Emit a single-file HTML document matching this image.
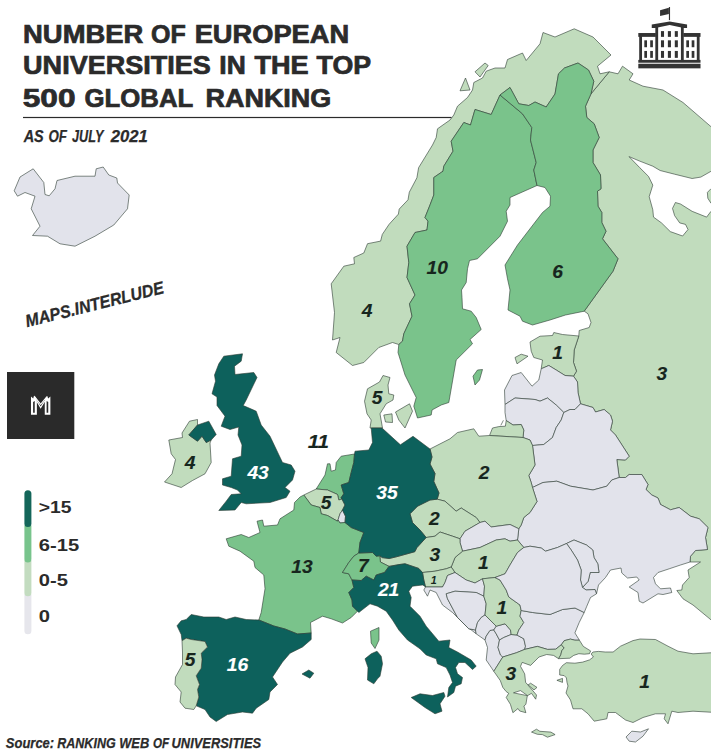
<!DOCTYPE html>
<html><head><meta charset="utf-8"><title>Number of European universities in the top 500 global ranking</title>
<style>
html,body{margin:0;padding:0;background:#fff;}
body{width:711px;height:756px;overflow:hidden;position:relative;font-family:"Liberation Sans",sans-serif;}
svg{position:absolute;left:0;top:0;display:block;}
text{font-family:"Liberation Sans",sans-serif;}
.c{stroke:#2c3b32;stroke-width:0.6;stroke-linejoin:round;}
.lb{font-weight:bold;font-style:italic;font-size:17.6px;text-anchor:middle;stroke-width:0.12;}
</style></head><body>
<svg width="711" height="756" viewBox="0 0 711 756">
<rect x="0" y="0" width="711" height="756" fill="#ffffff"/>

<g id="map">
<polygon class="c" fill="#c1dcbd" points="609.2,71.8 618.0,73.8 622.5,66.2 633.0,73.8 629.2,80.0 643.0,86.2 663.0,90.0 683.0,102.5 716.0,131.0 716.0,624.0 693.0,605.0 683.0,598.8 676.8,590.5 681.8,590.0 682.5,585.0 689.2,577.5 688.0,570.0 700.5,562.0 690.0,562.0 690.5,556.2 695.5,550.5 707.5,549.5 705.5,537.5 708.0,527.5 699.2,518.8 690.5,516.2 679.2,507.5 670.5,509.8 660.5,504.5 658.0,498.0 651.8,495.0 646.0,489.5 648.0,484.5 641.8,474.5 629.2,474.5 625.5,477.5 619.2,477.5 616.8,459.5 625.5,460.0 629.2,456.2 615.5,435.0 610.5,430.0 612.5,421.2 610.5,415.0 604.2,409.5 595.5,412.0 593.0,407.5 580.5,403.8 578.0,392.5 577.5,382.0 573.5,376.2 576.5,371.2 573.5,362.5 574.2,350.0 578.8,336.0 579.2,330.5 589.2,327.5 591.0,322.5 588.0,313.8 584.2,311.2 613.0,271.2 618.0,258.8 602.5,238.8 606.0,231.2 601.8,222.5 601.8,212.5 598.0,206.2 597.5,191.2 601.0,188.8 600.5,175.0 593.0,162.5 593.0,150.0 599.2,137.5 594.2,123.8 586.8,117.5 585.5,106.2 591.0,93.8"/>
<polygon class="c" fill="#ffffff" points="716.0,168.5 711.0,171.3 700.8,177.1 692.1,178.5 674.6,174.2 660.1,170.5 652.8,166.2 639.7,161.1 629.0,156.6 639.7,167.6 648.5,176.4 652.8,185.1 649.2,196.7 652.8,209.8 653.5,217.1 661.5,222.9 670.3,231.6 682.6,236.0 688.0,229.5 685.5,224.4 679.7,222.9 674.6,215.6 672.5,208.4 675.4,202.5 680.5,204.0 692.1,211.3 706.6,217.1 711.0,211.3 716.0,211.0 716.0,203.3 711.0,203.3 707.8,198.2 707.4,192.4 711.0,188.7 716.0,188.0"/>
<polygon class="c" fill="#c1dcbd" points="398.8,344.5 392.5,342.5 378.8,347.5 363.8,362.5 352.5,365.5 336.2,352.5 340.0,337.5 332.5,340.0 334.5,312.5 331.2,283.8 343.8,266.2 354.5,263.8 353.8,257.5 363.8,253.0 367.5,243.7 380.6,241.1 382.3,234.4 389.1,224.3 398.4,214.1 399.2,209.1 408.0,199.8 409.3,192.2 416.9,177.8 418.6,167.7 432.5,145.0 436.2,137.5 437.5,128.8 450.0,120.0 453.8,115.0 457.5,106.2 467.5,97.5 472.5,90.0 473.8,82.5 482.5,78.0 486.2,71.2 495.0,68.0 505.0,68.0 507.5,59.5 522.5,53.0 526.2,60.5 540.0,43.8 543.0,32.5 555.0,37.0 574.2,28.8 593.0,37.0 611.0,55.0 597.5,66.2 600.0,73.8 609.2,71.8 609.2,71.8 591.0,93.8 591.0,93.8 593.8,81.2 588.5,70.0 578.0,63.0 564.5,68.0 558.5,73.8 555.0,94.0 546.2,107.0 535.0,102.0 528.8,105.5 518.8,103.8 510.0,87.5 500.0,95.0 491.2,114.5 475.0,109.5 470.5,125.0 463.8,122.5 451.2,141.2 453.0,151.2 443.8,166.2 443.0,171.2 433.8,177.5 433.8,195.0 430.0,205.0 425.0,217.5 428.0,221.2 427.0,230.0 415.0,232.5 407.0,246.2 408.8,262.5 407.0,277.5 415.0,295.0 409.5,303.8 412.0,316.2 403.8,333.8 402.5,341.2"/>
<polygon class="c" fill="#7ac38b" points="500.0,95.0 522.5,113.8 531.8,127.5 530.5,140.0 536.2,162.5 533.8,170.0 537.0,185.5 510.0,197.5 510.0,205.0 506.2,211.2 507.5,221.2 500.0,236.2 477.5,258.8 469.5,260.5 467.5,268.8 466.2,282.5 461.5,290.0 462.0,297.5 462.5,308.8 471.2,311.2 476.2,317.5 481.2,329.5 470.0,339.5 472.5,343.8 456.2,360.0 448.8,402.5 441.2,405.0 432.0,410.0 431.2,415.0 417.5,418.0 413.8,406.2 416.2,397.5 405.0,375.0 398.0,352.5 398.8,344.5 402.5,341.2 403.8,333.8 412.0,316.2 409.5,303.8 415.0,295.0 407.0,277.5 408.8,262.5 407.0,246.2 415.0,232.5 427.0,230.0 428.0,221.2 425.0,217.5 430.0,205.0 433.8,195.0 433.8,177.5 443.0,171.2 443.8,166.2 453.0,151.2 451.2,141.2 463.8,122.5 470.5,125.0 475.0,109.5 491.2,114.5"/>
<polygon class="c" fill="#7ac38b" points="537.0,185.5 533.8,170.0 536.2,162.5 530.5,140.0 531.8,127.5 522.5,113.8 500.0,95.0 510.0,87.5 518.8,103.8 528.8,105.5 535.0,102.0 546.2,107.0 555.0,94.0 558.5,73.8 564.5,68.0 578.0,63.0 588.5,70.0 593.8,81.2 591.0,93.8 585.5,106.2 586.8,117.5 594.2,123.8 599.2,137.5 593.0,150.0 593.0,162.5 600.5,175.0 601.0,188.8 597.5,191.2 598.0,206.2 601.8,212.5 601.8,222.5 606.0,231.2 602.5,238.8 618.0,258.8 613.0,271.2 584.2,311.2 565.5,315.0 550.0,320.0 532.5,325.0 522.5,321.2 520.0,316.2 508.0,310.0 510.0,290.0 507.5,278.8 505.0,265.0 517.5,245.0 542.5,212.5 550.0,206.2 550.5,196.2 545.0,187.5"/>
<polygon class="c" fill="#c1dcbd" points="465.5,78.0 470.0,90.0 460.0,90.8"/>
<polygon class="c" fill="#c1dcbd" points="475.0,71.8 485.0,63.0 488.2,65.5 480.0,77.0"/>
<polygon class="c" fill="#c1dcbd" points="530.0,342.0 540.0,336.2 552.5,335.5 553.8,332.5 562.5,334.5 578.8,336.0 574.2,350.0 573.5,362.5 576.5,371.2 573.5,376.2 565.0,375.5 556.2,370.0 548.8,365.5 541.2,368.8 542.5,360.0 533.8,357.5 531.2,351.2"/>
<polygon class="c" fill="#c1dcbd" points="515.0,357.5 521.2,354.2 528.0,356.2 517.0,363.8"/>
<polygon class="c" fill="#e2e3eb" points="541.2,368.8 548.8,365.5 556.2,370.0 565.0,375.5 573.5,376.2 577.5,382.0 578.0,392.5 580.5,403.8 575.0,409.5 570.0,409.5 563.8,412.5 556.2,405.0 547.5,398.0 540.0,401.2 535.0,399.5 515.0,398.0 505.0,404.5 504.5,390.0 512.0,375.5 521.2,372.5 532.0,386.2 538.8,380.0"/>
<polygon class="c" fill="#e2e3eb" points="505.0,404.5 515.0,398.0 535.0,399.5 540.0,401.2 547.5,398.0 556.2,405.0 563.8,412.5 561.2,420.0 556.2,427.5 552.5,437.5 543.8,444.5 532.5,445.5 530.0,440.0 523.0,437.5 523.8,430.0 521.2,424.5 513.0,425.0 506.2,420.5 505.0,412.5"/>
<polygon class="c" fill="#c1dcbd" points="506.2,420.5 513.0,425.0 521.2,424.5 523.8,430.0 523.0,437.5 489.5,435.5 492.5,428.0 498.8,426.6 505.4,426.2"/>
<polygon class="c" fill="#e2e3eb" points="563.8,412.5 570.0,409.5 575.0,409.5 580.5,403.8 593.0,407.5 595.5,412.0 604.2,409.5 610.5,415.0 612.5,421.2 610.5,430.0 615.5,435.0 629.2,456.2 625.5,460.0 616.8,459.5 619.2,477.5 611.8,480.0 606.8,486.2 593.0,490.0 570.5,486.2 556.8,481.2 543.0,482.5 532.5,487.5 531.2,482.5 528.8,475.5 535.0,465.0 532.5,445.5 543.8,444.5 552.5,437.5 556.2,427.5 561.2,420.0"/>
<polygon class="c" fill="#e2e3eb" points="532.5,487.5 543.0,482.5 556.8,481.2 570.5,486.2 593.0,490.0 606.8,486.2 611.8,480.0 619.2,477.5 625.5,477.5 629.2,474.5 641.8,474.5 648.0,484.5 646.0,489.5 651.8,495.0 658.0,498.0 660.5,504.5 670.5,509.8 679.2,507.5 690.5,516.2 699.2,518.8 708.0,527.5 705.5,537.5 707.5,549.5 695.5,550.5 690.5,556.2 690.0,562.0 680.5,565.0 669.2,568.8 658.0,572.5 653.5,577.5 655.5,583.8 660.5,588.8 670.5,588.0 671.8,592.5 663.0,594.5 658.0,593.8 643.0,603.0 639.2,601.2 638.0,592.5 629.2,587.0 639.2,580.0 636.8,577.0 627.5,578.0 621.8,573.0 621.0,568.0 610.5,570.0 605.5,577.5 598.5,585.0 596.5,593.8 595.0,589.5 586.2,590.0 582.5,587.5 588.2,581.2 590.2,572.5 599.0,572.5 597.8,563.8 594.0,557.5 592.8,550.0 586.5,545.0 574.0,540.0 566.5,543.5 557.5,547.5 545.5,551.2 541.2,548.0 530.0,546.2 523.8,547.5 517.5,540.0 518.8,528.8 521.2,525.0 523.8,517.5 530.0,512.5 537.0,501.5"/>
<polygon class="c" fill="#e2e3eb" points="566.5,543.5 574.0,540.0 586.5,545.0 592.8,550.0 594.0,557.5 597.8,563.8 599.0,572.5 590.2,572.5 588.2,581.2 582.5,587.5 580.5,580.0 581.2,570.0 577.5,560.0 571.2,550.0"/>
<polygon class="c" fill="#c1dcbd" points="430.0,449.0 450.0,438.8 457.5,432.5 473.8,428.8 478.8,436.2 489.5,435.5 523.0,437.5 530.0,440.0 532.5,445.5 535.0,465.0 528.8,475.5 531.2,482.5 532.5,487.5 537.0,501.5 530.0,512.5 523.8,517.5 521.2,525.0 518.8,528.8 510.0,524.5 491.2,527.0 485.0,521.2 480.0,522.5 476.2,517.5 461.2,508.0 456.2,511.2 445.0,501.2 437.2,499.2 439.0,493.0 433.8,481.5 435.0,473.5 430.0,464.0 432.0,457.0"/>
<polygon class="c" fill="#c1dcbd" points="426.2,537.5 420.0,530.0 412.5,522.5 410.0,513.8 417.5,506.2 430.0,500.0 437.2,499.2 445.0,501.2 456.2,511.2 461.2,508.0 476.2,517.5 480.0,522.5 465.0,531.2 460.0,538.8 452.5,536.2 440.0,532.0 435.0,536.2"/>
<polygon class="c" fill="#e2e3eb" points="480.0,522.5 485.0,521.2 491.2,527.0 510.0,524.5 518.8,528.8 517.5,540.0 510.0,541.2 505.0,538.8 496.2,540.0 480.0,547.5 462.5,551.2 460.0,542.5 460.0,538.8 465.0,531.2"/>
<polygon class="c" fill="#c1dcbd" points="462.5,551.2 480.0,547.5 496.2,540.0 505.0,538.8 510.0,541.2 517.5,540.0 523.8,547.5 517.5,552.5 510.0,565.0 505.0,573.8 495.0,577.5 482.5,578.8 475.0,583.0 466.2,580.0 455.0,572.5 451.2,567.0 455.0,557.5"/>
<polygon class="c" fill="#c1dcbd" points="379.8,555.8 382.3,557.6 389.2,558.5 397.1,556.6 414.8,551.7 416.8,547.7 426.2,537.5 435.0,536.2 440.0,532.0 452.5,536.2 460.0,538.8 460.0,542.5 462.5,551.2 455.0,557.5 451.2,567.0 446.2,568.8 435.0,571.2 422.5,572.5 418.7,568.4 405.0,563.8 399.0,564.6 389.0,566.4 380.4,562.0"/>
<polygon class="c" fill="#c1dcbd" points="422.5,572.5 435.0,571.2 446.2,568.8 451.2,567.0 455.0,572.5 447.5,575.5 445.0,582.5 442.5,587.0 425.5,587.0 423.8,580.0"/>
<polygon class="c" fill="#e2e3eb" points="425.5,587.0 442.5,587.0 445.0,582.5 447.5,575.5 455.0,572.5 466.2,580.0 475.0,583.0 482.5,578.8 484.5,586.2 483.8,596.2 476.2,592.5 455.0,591.2 446.2,593.8 447.5,598.8 457.5,617.5 468.8,628.8 475.5,630.0 476.2,633.8 465.0,625.0 452.5,612.5 442.5,605.0 436.2,592.5 430.0,590.0 427.5,596.2 423.8,590.0"/>
<polygon class="c" fill="#e2e3eb" points="483.8,596.2 476.2,592.5 455.0,591.2 446.2,593.8 447.5,598.8 457.5,617.5 468.8,628.8 475.5,630.0 477.5,622.5 481.2,617.5 485.0,615.0 486.2,603.8"/>
<polygon class="c" fill="#e2e3eb" points="485.0,615.0 481.2,617.5 477.5,622.5 475.5,630.0 476.2,633.8 485.0,640.0 486.2,636.2 490.0,630.5 493.8,630.0 496.2,626.2 490.0,620.0"/>
<polygon class="c" fill="#e2e3eb" points="493.8,630.0 490.0,630.5 486.2,636.2 485.0,640.0 487.5,647.5 486.2,660.0 491.0,667.1 493.8,671.3 502.8,657.0 500.5,655.0 498.0,647.5 499.5,640.0 496.2,633.8"/>
<polygon class="c" fill="#e2e3eb" points="496.2,626.2 505.0,623.8 510.5,630.0 511.2,634.5 503.8,637.5 499.5,640.0 496.2,633.8 493.8,630.0"/>
<polygon class="c" fill="#e2e3eb" points="499.5,640.0 503.8,637.5 511.2,634.5 517.0,635.0 523.8,638.8 525.5,646.2 524.7,649.4 516.3,652.8 502.8,657.0 500.5,655.0 498.0,647.5"/>
<polygon class="c" fill="#c1dcbd" points="495.0,577.5 482.5,578.8 484.5,586.2 483.8,596.2 486.2,603.8 485.0,615.0 490.0,620.0 496.2,626.2 505.0,623.8 510.5,630.0 511.2,634.5 517.0,635.0 518.8,630.0 523.8,622.5 520.0,616.2 521.2,610.5 520.0,605.0 508.8,597.0 506.2,590.0 500.0,580.0"/>
<polygon class="c" fill="#e2e3eb" points="521.2,610.5 532.5,612.5 550.0,614.5 562.5,609.5 575.0,608.0 584.2,612.5 579.2,622.5 574.9,632.9 579.4,640.2 574.9,640.2 570.4,639.1 564.2,640.7 561.4,644.7 555.7,649.2 547.5,649.4 537.4,646.4 524.7,649.4 525.5,646.2 523.8,638.8 517.0,635.0 518.8,630.0 523.8,622.5 520.0,616.2"/>
<polygon class="c" fill="#e2e3eb" points="523.8,547.5 530.0,546.2 541.2,548.0 545.5,551.2 557.5,547.5 566.5,543.5 571.2,550.0 577.5,560.0 581.2,570.0 580.5,580.0 582.5,587.5 586.2,590.0 595.0,589.5 596.5,593.8 590.5,597.5 586.8,606.2 584.2,612.5 575.0,608.0 562.5,609.5 550.0,614.5 532.5,612.5 521.2,610.5 520.0,605.0 508.8,597.0 506.2,590.0 500.0,580.0 495.0,577.5 505.0,573.8 510.0,565.0 517.5,552.5"/>
<polygon class="c" fill="#c1dcbd" points="493.8,671.3 502.8,657.0 516.3,652.8 524.7,649.4 537.4,646.4 547.5,649.4 555.7,649.2 561.4,644.7 564.2,648.1 561.9,650.3 560.8,654.8 558.6,658.7 553.5,655.4 546.7,654.5 539.0,657.0 530.6,665.4 522.2,662.4 520.5,666.3 524.7,673.9 525.6,682.3 536.5,695.0 535.7,699.2 531.5,693.3 527.3,695.8 525.9,704.3 523.9,706.0 525.9,712.7 519.7,711.0 518.0,708.5 512.9,712.7 510.4,704.3 506.2,697.5 508.7,693.3 506.2,691.6 502.8,687.4 500.3,680.6"/>
<polygon class="c" fill="#ffffff" points="513.5,692.8 520.5,690.6 527.5,695.6 521.0,694.4"/>
<polygon class="c" fill="#c1dcbd" points="528.1,684.9 530.6,683.2 537.0,687.4 534.0,689.9"/>
<polygon class="c" fill="#c1dcbd" points="556.9,680.3 562.5,678.4 562.5,682.4"/>
<polygon class="c" fill="#c1dcbd" points="531.5,732.1 536.5,729.2 539.9,731.3 550.9,732.1 555.1,734.6 547.5,737.2 542.4,734.6 537.4,734.3"/>
<polygon class="c" fill="#c1dcbd" points="561.4,644.7 564.2,648.1 561.9,650.3 560.8,654.8 558.6,658.7 569.8,658.2 573.7,655.4 578.8,653.7 584.4,654.2 589.5,653.7 590.6,650.9 583.3,646.4 579.4,640.2 574.9,640.2 570.4,639.1 564.2,640.7"/>
<polygon class="c" fill="#c1dcbd" points="592.9,652.0 598.5,651.4 605.2,652.0 613.1,652.0 620.5,646.2 633.0,640.6 640.0,639.0 655.5,639.5 668.0,646.2 678.0,651.2 693.0,653.8 716.0,652.5 716.0,712.5 693.0,711.2 678.0,712.5 671.8,711.2 668.0,723.8 664.2,718.8 665.5,713.8 655.5,713.8 643.0,717.5 633.0,722.5 625.5,720.0 615.5,712.5 608.0,712.5 606.8,718.8 594.2,721.2 588.0,713.8 581.8,708.8 573.0,708.8 570.5,700.0 566.0,693.0 568.0,686.0 567.0,682.4 566.4,677.9 564.2,675.6 559.7,675.0 559.7,669.4 562.5,665.5 566.4,662.7 574.9,663.2 582.7,662.1 589.5,659.9 593.4,657.0 591.2,654.0"/>
<polygon class="c" fill="#e2e3eb" points="626.0,737.0 631.8,731.2 640.5,732.0 648.5,728.8 643.0,736.2 635.5,742.0 629.2,741.2"/>
<polygon class="c" fill="#c1dcbd" points="370.0,428.0 371.2,420.0 367.0,413.8 364.5,401.2 367.5,388.8 379.5,382.0 383.0,375.5 390.0,377.5 388.0,385.0 388.8,393.8 393.8,395.0 393.0,400.0 386.2,403.8 380.0,413.8 382.5,428.0"/>
<polygon class="c" fill="#c1dcbd" points="383.8,415.0 392.0,413.8 392.5,422.5 385.5,422.0"/>
<polygon class="c" fill="#c1dcbd" points="395.5,412.0 409.5,403.8 412.5,411.2 405.0,428.0 398.8,420.0"/>
<polygon class="c" fill="#7ac38b" points="473.0,376.2 477.5,370.0 482.5,369.5 479.5,380.0 475.0,385.0"/>
<polygon class="c" fill="#7ac38b" points="341.2,456.2 354.5,454.0 353.8,462.5 351.2,472.5 348.8,482.5 341.2,485.0 343.8,493.8 341.2,497.5 342.5,498.8 338.8,500.0 337.5,494.5 327.5,490.0 316.2,489.0 325.0,475.0 327.5,463.8 330.0,463.8 331.2,471.2 335.5,470.0 336.2,462.5"/>
<polygon class="c" fill="#c1dcbd" points="303.8,495.0 316.2,489.0 327.5,490.0 337.5,494.5 338.8,500.0 342.5,498.8 341.2,497.5 345.0,505.0 342.5,510.0 340.0,513.8 338.0,520.0 337.5,521.2 327.5,515.5 321.2,513.8 320.0,507.5 311.2,505.0"/>
<polygon class="c" fill="#e2e3eb" points="342.5,510.0 345.5,516.2 345.0,522.5 340.0,523.0 338.0,520.0 340.0,513.8"/>
<polygon class="c" fill="#7ac38b" points="303.8,495.0 300.0,497.0 294.5,502.5 293.8,510.0 280.0,518.8 277.5,525.0 263.8,526.2 262.5,520.0 257.0,521.2 260.0,532.5 248.8,537.5 241.2,534.5 226.2,538.8 228.8,546.2 240.0,551.2 253.8,561.2 255.0,567.5 263.8,575.0 265.0,588.8 261.2,612.5 258.8,620.0 273.8,626.0 285.0,629.0 297.5,634.0 311.2,633.0 310.5,622.5 322.5,616.2 331.2,618.8 342.5,623.0 351.2,617.5 357.5,611.2 352.5,606.2 352.0,600.0 348.8,592.5 353.8,587.5 352.0,580.0 348.8,573.8 342.5,572.5 348.8,562.5 353.8,556.2 358.8,553.0 360.0,542.5 363.8,532.5 351.2,527.5 345.0,522.5 340.0,523.0 338.0,520.0 337.5,521.2 327.5,515.5 321.2,513.8 320.0,507.5 311.2,505.0"/>
<polygon class="c" fill="#7ac38b" points="370.5,631.2 379.0,627.5 379.0,640.0 375.0,648.5 371.2,643.0"/>
<polygon class="c" fill="#7ac38b" points="379.8,555.8 376.2,556.2 372.5,552.5 358.8,553.0 353.8,556.2 348.8,562.5 342.5,572.5 348.8,573.8 352.0,580.0 361.2,580.5 366.2,576.2 373.8,580.0 376.2,575.0 384.5,572.5 389.0,566.4 380.4,562.0"/>
<polygon class="c" fill="#0d615c" points="354.5,454.0 355.0,451.2 368.8,450.0 372.5,442.5 371.2,428.0 382.0,428.0 400.4,444.8 413.0,436.3 430.0,449.0 432.0,457.0 430.0,464.0 435.0,473.5 433.8,481.5 439.0,493.0 437.2,499.2 430.0,500.0 417.5,506.2 410.0,513.8 412.5,522.5 420.0,530.0 426.2,537.5 416.8,547.7 414.8,551.7 397.1,556.6 389.2,558.5 382.3,557.6 379.8,555.8 376.2,556.2 372.5,552.5 358.8,553.0 360.0,542.5 363.8,532.5 351.2,527.5 345.0,522.5 345.5,516.2 342.5,510.0 345.0,505.0 341.2,497.5 343.8,493.8 341.2,485.0 348.8,482.5 351.2,472.5 353.8,462.5"/>
<polygon class="c" fill="#0d615c" points="352.0,580.0 361.2,580.5 366.2,576.2 373.8,580.0 376.2,575.0 384.5,572.5 389.0,566.4 399.0,564.6 405.0,563.8 418.7,568.4 422.5,572.5 423.8,580.0 425.5,587.0 424.5,586.0 422.5,585.0 412.5,586.2 408.8,591.2 411.2,597.5 410.0,606.2 420.0,616.2 426.2,626.2 438.8,641.2 450.0,640.0 448.8,647.5 457.5,652.0 471.2,660.0 476.2,666.2 472.5,669.5 465.0,662.5 458.8,662.5 455.5,667.5 457.5,673.8 462.5,677.5 461.2,683.8 455.5,686.2 453.8,692.5 447.5,697.0 448.8,687.5 452.5,682.5 450.0,675.0 446.2,667.5 437.5,663.8 436.2,658.8 426.2,655.0 420.0,648.8 407.5,640.0 398.8,630.0 392.5,620.0 386.2,611.2 377.5,606.2 370.0,603.8 358.8,612.5 357.5,611.2 352.5,606.2 352.0,600.0 348.8,592.5 353.8,587.5"/>
<polygon class="c" fill="#0d615c" points="411.2,697.5 420.0,693.8 432.5,695.5 443.8,692.5 445.0,696.2 440.0,703.8 442.0,711.2 435.0,713.8 425.0,707.5"/>
<polygon class="c" fill="#0d615c" points="365.0,658.8 371.2,653.8 377.0,651.2 381.2,656.2 382.5,663.8 380.0,676.2 377.5,678.8 373.8,683.8 367.5,680.0 368.0,667.5"/>
<polygon class="c" fill="#0d615c" points="177.0,625.8 181.2,620.8 186.2,619.5 191.2,614.5 203.8,617.0 218.8,617.0 226.2,619.5 235.0,617.0 246.2,619.5 258.8,620.0 273.8,626.0 285.0,629.0 297.5,634.0 311.2,633.0 311.2,639.5 302.5,647.0 290.0,653.2 282.5,662.0 272.5,677.0 277.5,684.5 270.0,692.0 268.8,699.5 256.2,708.2 252.5,713.2 242.5,712.0 227.5,714.5 216.2,721.5 210.0,717.0 205.0,709.5 196.2,705.8 198.8,697.0 197.5,689.5 199.5,684.5 196.2,675.8 201.2,668.2 202.0,659.5 201.2,653.2 207.5,647.0 205.0,641.5 191.2,639.5 186.2,638.2 182.0,640.8 181.2,634.5"/>
<polygon class="c" fill="#c1dcbd" points="182.0,640.8 186.2,638.2 191.2,639.5 205.0,641.5 207.5,647.0 201.2,653.2 202.0,659.5 201.2,668.2 196.2,675.8 199.5,684.5 197.5,689.5 198.8,697.0 196.2,705.8 193.8,709.5 185.0,708.2 180.0,702.0 181.2,692.0 175.0,684.5 175.5,677.0 182.5,664.5 182.5,652.0"/>
<polygon class="c" fill="#0d615c" points="302.0,674.0 308.8,670.0 313.8,673.2 310.0,678.2"/>
<polygon class="c" fill="#0d615c" points="223.8,356.2 242.5,353.8 241.2,361.2 234.5,366.2 235.0,374.5 253.8,372.5 257.0,377.5 246.2,400.0 243.2,405.5 256.2,411.2 261.2,425.0 270.0,436.2 282.5,462.5 291.2,465.0 295.0,471.2 292.5,480.0 285.0,487.5 290.0,491.2 286.2,497.5 270.0,502.5 246.2,503.8 241.2,502.5 235.0,510.0 218.8,510.5 226.2,501.2 231.2,494.5 241.2,493.8 237.5,490.0 231.2,487.5 222.5,485.0 222.5,478.8 231.2,476.2 232.5,458.8 241.2,456.2 242.0,445.0 238.0,435.0 238.8,427.0 230.0,429.5 221.2,426.2 225.0,416.2 217.0,405.5 217.0,397.0 212.0,393.8 215.5,381.2 214.5,375.0 218.8,363.8"/>
<polygon class="c" fill="#c1dcbd" points="197.5,419.5 197.5,425.0 188.8,435.0 197.5,441.2 202.0,436.2 206.2,442.5 211.2,440.0 210.0,443.0 211.2,462.5 205.0,473.8 192.5,480.5 181.2,487.5 164.5,482.0 172.0,473.8 175.5,459.5 171.2,453.8 168.8,440.0 182.5,437.5 182.0,433.0 189.5,421.2"/>
<polygon class="c" fill="#0d615c" points="197.5,425.0 208.8,421.2 216.2,434.5 211.2,440.0 206.2,442.5 202.0,436.2 197.5,441.2 188.8,435.0"/>
<polygon class="c" fill="#e2e3eb" points="14.2,190.8 20.0,177.0 33.2,168.8 43.8,182.5 45.0,194.5 49.2,195.8 55.0,188.8 57.0,180.5 75.0,176.2 95.0,176.2 96.2,168.8 103.2,167.0 108.8,175.0 116.8,178.0 117.5,183.0 129.2,195.0 127.5,208.8 113.8,225.0 95.0,236.2 75.0,246.2 60.0,243.8 47.5,236.2 32.5,235.5 40.0,226.2 31.2,208.8 35.0,196.2 25.0,192.5 17.5,196.2"/>
<polyline class="c" fill="none" points="503.4,420.3 500.8,425.4"/>
</g>
<g id="labels">
<text class="lb" x="437.2" y="274.2" fill="#17261e" stroke="#17261e" textLength="21.4" lengthAdjust="spacingAndGlyphs">10</text>
<text class="lb" x="557.5" y="277.5" fill="#17261e" stroke="#17261e" textLength="10.7" lengthAdjust="spacingAndGlyphs">6</text>
<text class="lb" x="367.0" y="316.8" fill="#17261e" stroke="#17261e" textLength="10.7" lengthAdjust="spacingAndGlyphs">4</text>
<text class="lb" x="557.5" y="359.2" fill="#17261e" stroke="#17261e" textLength="10.7" lengthAdjust="spacingAndGlyphs">1</text>
<text class="lb" x="661.8" y="379.8" fill="#17261e" stroke="#17261e" textLength="10.7" lengthAdjust="spacingAndGlyphs">3</text>
<text class="lb" x="377.0" y="404.2" fill="#17261e" stroke="#17261e" textLength="10.7" lengthAdjust="spacingAndGlyphs">5</text>
<text class="lb" x="318.4" y="447.5" fill="#17261e" stroke="#17261e" textLength="21.4" lengthAdjust="spacingAndGlyphs">11</text>
<text class="lb" x="258.1" y="479.2" fill="#ffffff" stroke="#ffffff" textLength="21.4" lengthAdjust="spacingAndGlyphs">43</text>
<text class="lb" x="190.0" y="468.5" fill="#17261e" stroke="#17261e" textLength="10.7" lengthAdjust="spacingAndGlyphs">4</text>
<text class="lb" x="326.2" y="508.5" fill="#17261e" stroke="#17261e" textLength="10.7" lengthAdjust="spacingAndGlyphs">5</text>
<text class="lb" x="386.9" y="499.0" fill="#ffffff" stroke="#ffffff" textLength="21.4" lengthAdjust="spacingAndGlyphs">35</text>
<text class="lb" x="484.1" y="479.2" fill="#17261e" stroke="#17261e" textLength="10.7" lengthAdjust="spacingAndGlyphs">2</text>
<text class="lb" x="434.4" y="525.0" fill="#17261e" stroke="#17261e" textLength="10.7" lengthAdjust="spacingAndGlyphs">2</text>
<text class="lb" x="434.8" y="561.1" fill="#17261e" stroke="#17261e" textLength="10.7" lengthAdjust="spacingAndGlyphs">3</text>
<text class="lb" x="483.4" y="569.2" fill="#17261e" stroke="#17261e" textLength="10.7" lengthAdjust="spacingAndGlyphs">1</text>
<text class="lb" x="501.9" y="613.5" fill="#17261e" stroke="#17261e" textLength="10.7" lengthAdjust="spacingAndGlyphs">1</text>
<text class="lb" x="510.9" y="680.0" fill="#17261e" stroke="#17261e" textLength="10.7" lengthAdjust="spacingAndGlyphs">3</text>
<text class="lb" x="644.6" y="688.0" fill="#17261e" stroke="#17261e" textLength="10.7" lengthAdjust="spacingAndGlyphs">1</text>
<text class="lb" x="301.9" y="572.5" fill="#17261e" stroke="#17261e" textLength="21.4" lengthAdjust="spacingAndGlyphs">13</text>
<text class="lb" x="363.4" y="571.8" fill="#17261e" stroke="#17261e" textLength="10.7" lengthAdjust="spacingAndGlyphs">7</text>
<text class="lb" x="388.6" y="596.0" fill="#ffffff" stroke="#ffffff" textLength="21.4" lengthAdjust="spacingAndGlyphs">21</text>
<text class="lb" x="237.5" y="671.2" fill="#ffffff" stroke="#ffffff" textLength="21.4" lengthAdjust="spacingAndGlyphs">16</text>
<text class="lb" x="190.0" y="666.2" fill="#17261e" stroke="#17261e" textLength="10.7" lengthAdjust="spacingAndGlyphs">5</text>
<text class="lb" x="433.8" y="583.6" fill="#17261e" style="font-size:11.5px" textLength="6" lengthAdjust="spacingAndGlyphs">1</text>
</g>
<g id="title" fill="#2b2b2b" stroke="#2b2b2b" stroke-width="0.7" font-weight="bold">
<text x="23.1" y="42.6" font-size="25" textLength="120.2" lengthAdjust="spacingAndGlyphs">NUMBER</text>
<text x="151.1" y="42.6" font-size="25" textLength="34.8" lengthAdjust="spacingAndGlyphs">OF</text>
<text x="194.7" y="42.6" font-size="25" textLength="154.4" lengthAdjust="spacingAndGlyphs">EUROPEAN</text>
<text x="23.1" y="74.2" font-size="25" textLength="187.8" lengthAdjust="spacingAndGlyphs">UNIVERSITIES</text>
<text x="219.3" y="74.2" font-size="25" textLength="26.4" lengthAdjust="spacingAndGlyphs">IN</text>
<text x="254.5" y="74.2" font-size="25" textLength="54.2" lengthAdjust="spacingAndGlyphs">THE</text>
<text x="316.5" y="74.2" font-size="25" textLength="54.6" lengthAdjust="spacingAndGlyphs">TOP</text>
<text x="22.7" y="106.6" font-size="25" textLength="52.8" lengthAdjust="spacingAndGlyphs">500</text>
<text x="84.5" y="106.6" font-size="25" textLength="108.8" lengthAdjust="spacingAndGlyphs">GLOBAL</text>
<text x="205.5" y="106.6" font-size="25" textLength="125.8" lengthAdjust="spacingAndGlyphs">RANKING</text>
</g>
<rect x="23" y="116.9" width="428.5" height="1.2" fill="#2b2b2b"/>
<text x="23.64" y="141.7" font-size="15.6" font-weight="bold" font-style="italic" fill="#2b2b2b" stroke="#2b2b2b" stroke-width="0.25" textLength="20.09" lengthAdjust="spacingAndGlyphs">AS</text>
<text x="48.43" y="141.7" font-size="15.6" font-weight="bold" font-style="italic" fill="#2b2b2b" stroke="#2b2b2b" stroke-width="0.25" textLength="18.48" lengthAdjust="spacingAndGlyphs">OF</text>
<text x="71.97" y="141.7" font-size="15.6" font-weight="bold" font-style="italic" fill="#2b2b2b" stroke="#2b2b2b" stroke-width="0.25" textLength="31.37" lengthAdjust="spacingAndGlyphs">JULY</text>
<text x="110.67" y="141.7" font-size="15.6" font-weight="bold" font-style="italic" fill="#2b2b2b" stroke="#2b2b2b" stroke-width="0.25" textLength="37.15" lengthAdjust="spacingAndGlyphs">2021</text>
<text x="5.77" y="748.1" font-size="14.0" font-weight="bold" font-style="italic" fill="#2b2b2b" stroke="#2b2b2b" stroke-width="0.25" textLength="48.42" lengthAdjust="spacingAndGlyphs">Source:</text>
<text x="57.25" y="748.1" font-size="14.0" font-weight="bold" font-style="italic" fill="#2b2b2b" stroke="#2b2b2b" stroke-width="0.25" textLength="58.41" lengthAdjust="spacingAndGlyphs">RANKING</text>
<text x="119.20" y="748.1" font-size="14.0" font-weight="bold" font-style="italic" fill="#2b2b2b" stroke="#2b2b2b" stroke-width="0.25" textLength="30.06" lengthAdjust="spacingAndGlyphs">WEB</text>
<text x="153.02" y="748.1" font-size="14.0" font-weight="bold" font-style="italic" fill="#2b2b2b" stroke="#2b2b2b" stroke-width="0.25" textLength="16.13" lengthAdjust="spacingAndGlyphs">OF</text>
<text x="171.53" y="748.1" font-size="14.0" font-weight="bold" font-style="italic" fill="#2b2b2b" stroke="#2b2b2b" stroke-width="0.25" textLength="89.58" lengthAdjust="spacingAndGlyphs">UNIVERSITIES</text>
<text x="0" y="0" font-size="17.4" font-weight="bold" font-style="italic" fill="#2b2b2b" stroke="#2b2b2b" stroke-width="0.3" textLength="142" lengthAdjust="spacingAndGlyphs" transform="translate(27.0,327.3) rotate(-14)">MAPS.INTERLUDE</text>
<rect x="7" y="372" width="67.3" height="67" fill="#2a2a2a"/>
<g transform="translate(20,385) scale(0.05626)" fill="#fff"><polygon points="195,205 235,240 250,185 300,260 300,530 195,530"/><polygon points="540,205 500,240 485,195 440,260 440,530 540,530"/><polyline points="255,200 367,345 480,205" fill="none" stroke="#fff" stroke-width="21"/><polyline points="298,285 367,400 440,285" fill="none" stroke="#fff" stroke-width="21"/><polygon fill="#2a2a2a" points="233,300 262,285 262,492 233,492"/><polygon fill="#2a2a2a" points="502,300 473,285 473,492 502,492"/></g>
<g id="legend">
<rect x="24.4" y="592" width="7" height="42.3" rx="3.5" fill="#e6e6ec"/>
<rect x="24.4" y="558" width="7" height="38.2" rx="3.5" fill="#c3dcc0"/>
<rect x="24.4" y="523" width="7" height="39.4" rx="3.5" fill="#78c48c"/>
<rect x="24.4" y="490.2" width="7" height="36.9" rx="3.5" fill="#14665a"/>
<text x="38.83" y="513.0" font-size="16.4" font-weight="bold" fill="#2b2b2b" textLength="32.78" lengthAdjust="spacingAndGlyphs">&gt;15</text>
<text x="38.79" y="551.1" font-size="16.4" font-weight="bold" fill="#2b2b2b" textLength="40.34" lengthAdjust="spacingAndGlyphs">6-15</text>
<text x="38.79" y="586.3" font-size="16.4" font-weight="bold" fill="#2b2b2b" textLength="29.12" lengthAdjust="spacingAndGlyphs">0-5</text>
<text x="38.79" y="621.5" font-size="16.4" font-weight="bold" fill="#2b2b2b" textLength="11.24" lengthAdjust="spacingAndGlyphs">0</text>
</g>
<g transform="translate(620,0) scale(0.128)" fill="#333333"><rect x="143" y="498" width="486" height="36"/><rect x="143" y="468" width="486" height="22"/><rect x="143" y="258" width="137" height="30"/><rect x="495" y="258" width="134" height="30"/><rect x="150" y="270" width="22" height="200"/><rect x="600" y="270" width="22" height="200"/><rect x="276" y="205" width="22" height="270"/><rect x="476" y="205" width="22" height="270"/><polygon points="248,192 388,168 524,192 524,218 498,218 388,196 276,218 248,218"/><rect x="382" y="55" width="9" height="102"/><polygon points="313,80 382,60 382,110 313,125"/><rect x="320" y="243" width="24" height="45"/><rect x="320" y="315" width="24" height="54"/><rect x="320" y="398" width="24" height="54"/><rect x="374" y="243" width="24" height="45"/><rect x="374" y="315" width="24" height="54"/><rect x="374" y="398" width="24" height="54"/><rect x="428" y="243" width="24" height="45"/><rect x="428" y="315" width="24" height="54"/><rect x="428" y="398" width="24" height="54"/><rect x="190" y="315" width="21" height="54"/><rect x="190" y="398" width="21" height="54"/><rect x="236" y="315" width="21" height="54"/><rect x="236" y="398" width="21" height="54"/><rect x="518" y="315" width="21" height="54"/><rect x="518" y="398" width="21" height="54"/><rect x="560" y="315" width="21" height="54"/><rect x="560" y="398" width="21" height="54"/></g>
</svg></body></html>
